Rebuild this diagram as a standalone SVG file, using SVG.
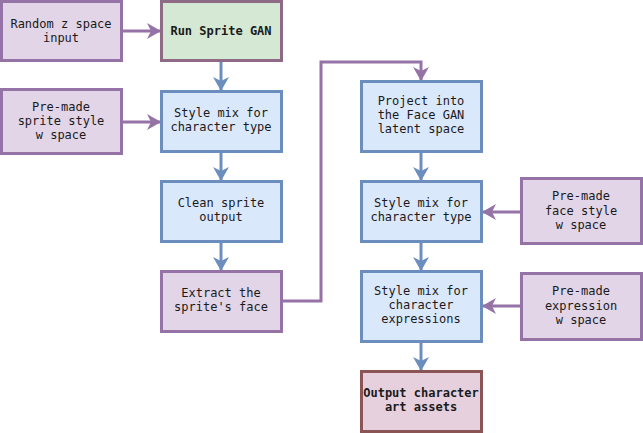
<svg xmlns="http://www.w3.org/2000/svg" width="643" height="433" viewBox="0 0 643 433">
<style>
.pink{fill:#e1d5e7;stroke:#9673a6;stroke-width:3}
.blue{fill:#dae8fc;stroke:#6c8ebf;stroke-width:3}
.green{fill:#d5e8d4;stroke:#8f6a86;stroke-width:3}
.out{fill:#e6d0de;stroke:#8c5555;stroke-width:3}
text{font-family:"DejaVu Sans Mono","Liberation Mono",monospace;font-size:12px;fill:#1a1a1a;text-anchor:middle}
.b{font-weight:bold}
.cb{fill:none;stroke:#6c8ebf;stroke-width:3}
.cp{fill:none;stroke:#9673a6;stroke-width:3}
</style>
<defs>
<marker id="ab" markerUnits="userSpaceOnUse" markerWidth="14" markerHeight="16" refX="13" refY="8" orient="auto" viewBox="0 0 14 16">
<path d="M0,0 L14,8 L0,16 L4,8 Z" fill="#6c8ebf"/>
</marker>
<marker id="ap" markerUnits="userSpaceOnUse" markerWidth="14" markerHeight="16" refX="13" refY="8" orient="auto" viewBox="0 0 14 16">
<path d="M0,0 L14,8 L0,16 L4,8 Z" fill="#9673a6"/>
</marker>
</defs>
<g id="connectors">
<path class="cp" d="M122,31 H160" marker-end="url(#ap)"/>
<path class="cp" d="M122,122 H160" marker-end="url(#ap)"/>
<path class="cb" d="M221,62 V90" marker-end="url(#ab)"/>
<path class="cb" d="M221,152 V180" marker-end="url(#ab)"/>
<path class="cb" d="M221,242 V270" marker-end="url(#ab)"/>
<path class="cp" d="M282,301 H321 V62 H421 V80" marker-end="url(#ap)"/>
<path class="cb" d="M421,152 V180" marker-end="url(#ab)"/>
<path class="cb" d="M421,242 V270" marker-end="url(#ab)"/>
<path class="cb" d="M421,342 V370" marker-end="url(#ab)"/>
<path class="cp" d="M521,212 H483" marker-end="url(#ap)"/>
<path class="cp" d="M521,306 H483" marker-end="url(#ap)"/>
</g>
<g id="random-z">
<rect class="pink" x="1.5" y="1.5" width="120" height="59"/>
<text x="61" y="28">Random z space</text>
<text x="61" y="42">input</text>
</g>
<g id="run-sprite-gan">
<rect class="green" x="161.5" y="1.5" width="120" height="59"/>
<text class="b" x="221" y="35">Run Sprite GAN</text>
</g>
<g id="premade-sprite-style">
<rect class="pink" x="1.5" y="89.5" width="120" height="64"/>
<text x="61" y="111">Pre-made</text>
<text x="61" y="125">sprite style</text>
<text x="61" y="139">w space</text>
</g>
<g id="style-mix-sprite">
<rect class="blue" x="161.5" y="91.5" width="120" height="60"/>
<text x="221" y="117">Style mix for</text>
<text x="221" y="131">character type</text>
</g>
<g id="clean-sprite">
<rect class="blue" x="161.5" y="181.5" width="120" height="60"/>
<text x="221" y="207">Clean sprite</text>
<text x="221" y="221">output</text>
</g>
<g id="extract-face">
<rect class="pink" x="161.5" y="271.5" width="120" height="60"/>
<text x="221" y="297">Extract the</text>
<text x="221" y="311">sprite's face</text>
</g>
<g id="project-face">
<rect class="blue" x="361.5" y="81.5" width="120" height="70"/>
<text x="421" y="105">Project into</text>
<text x="421" y="119">the Face GAN</text>
<text x="421" y="133">latent space</text>
</g>
<g id="style-mix-face">
<rect class="blue" x="361.5" y="181.5" width="120" height="60"/>
<text x="421" y="207">Style mix for</text>
<text x="421" y="221">character type</text>
</g>
<g id="premade-face-style">
<rect class="pink" x="521.5" y="178.5" width="120" height="65"/>
<text x="581" y="200">Pre-made</text>
<text x="581" y="215">face style</text>
<text x="581" y="229">w space</text>
</g>
<g id="style-mix-expr">
<rect class="blue" x="361.5" y="271.5" width="120" height="70"/>
<text x="421" y="295">Style mix for</text>
<text x="421" y="309">character</text>
<text x="421" y="323">expressions</text>
</g>
<g id="premade-expr">
<rect class="pink" x="521.5" y="273.5" width="120" height="66"/>
<text x="581" y="295">Pre-made</text>
<text x="581" y="310">expression</text>
<text x="581" y="324">w space</text>
</g>
<g id="output-assets">
<rect class="out" x="361.5" y="371.5" width="120" height="60"/>
<text class="b" x="421" y="397">Output character</text>
<text class="b" x="421" y="411">art assets</text>
</g>
</svg>
